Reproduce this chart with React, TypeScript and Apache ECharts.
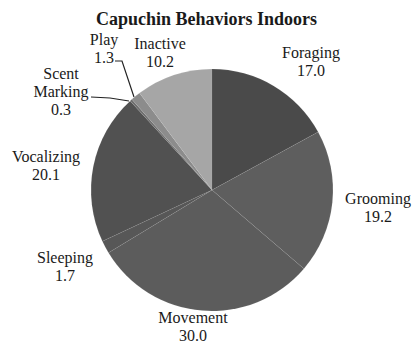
import React, { useEffect, useRef } from "react";
import * as echarts from "echarts";

const CATEGORIES = ["Foraging", "Grooming", "Movement", "Sleeping", "Vocalizing", "Scent Marking", "Play", "Inactive"];
const VALUES = [17.0, 19.2, 30.0, 1.7, 20.1, 0.3, 1.3, 10.2];
const LABEL_TEXT = ["Foraging", "Grooming", "Movement", "Sleeping", "Vocalizing", "Scent\nMarking", "Play", "Inactive"];
const COLORS = ["#4a4a4a", "#5e5e5e", "#5c5c5c", "#575757", "#515151", "#6e6e6e", "#8c8c8c", "#a6a6a6"];

// label anchor positions (px) and leader lines
const LABEL_POS: Record<string, [number, number]> = {
  "Foraging": [311, 61],
  "Grooming": [378, 207],
  "Movement": [193, 326],
  "Sleeping": [65, 266],
  "Vocalizing": [46, 165],
  "Scent Marking": [61, 91],
  "Play": [104, 48],
  "Inactive": [160, 52],
};
const LEADERS: Record<string, number[][]> = {
  "Scent Marking": [[129, 101], [110, 98], [91, 97]],
  "Play": [[134, 97], [122, 61], [115, 61]],
};

export default function App() {
  const ref = useRef<HTMLDivElement>(null);
  useEffect(() => {
    if (!ref.current) return;
    const chart = echarts.init(ref.current, undefined, { renderer: "svg" });
    chart.setOption({
      animation: false,
      backgroundColor: "#ffffff",
      title: {
        text: "Capuchin Behaviors Indoors",
        left: "center",
        top: 5,
        textStyle: { fontFamily: "Liberation Serif", fontWeight: "bold", fontSize: 18, color: "#1a1a1a" },
      },
      series: [
        {
          type: "pie",
          center: [212, 190],
          radius: 121,
          startAngle: 90,
          clockwise: true,
          avoidLabelOverlap: false,
          itemStyle: { borderColor: "rgba(255,255,255,0.12)", borderWidth: 0.5 },
          label: {
            show: true,
            position: "outside",
            fontFamily: "Liberation Serif",
            fontSize: 16,
            lineHeight: 18,
            color: "#1a1a1a",
            align: "center",
            formatter: (p: any) => `${LABEL_TEXT[p.dataIndex]}\n${VALUES[p.dataIndex].toFixed(1)}`,
          },
          labelLine: { show: false, lineStyle: { color: "#222", width: 1.2 } },
          labelLayout: (params: any) => {
            const name = CATEGORIES[params.dataIndex];
            const p = LABEL_POS[name];
            const out: any = { x: p[0], y: p[1], align: "center", verticalAlign: "middle" };
            if (LEADERS[name]) out.labelLinePoints = LEADERS[name];
            return out;
          },
          data: CATEGORIES.map((c, i) => ({
            name: c,
            value: VALUES[i],
            itemStyle: { color: COLORS[i] },
            labelLine: { show: !!LEADERS[c], length: 10, length2: 10 },
          })),
        },
      ],
    });
    return () => chart.dispose();
  }, []);
  return <div ref={ref} style={{ width: 413, height: 345, position: "absolute", left: 0, top: 0 }} />;
}
